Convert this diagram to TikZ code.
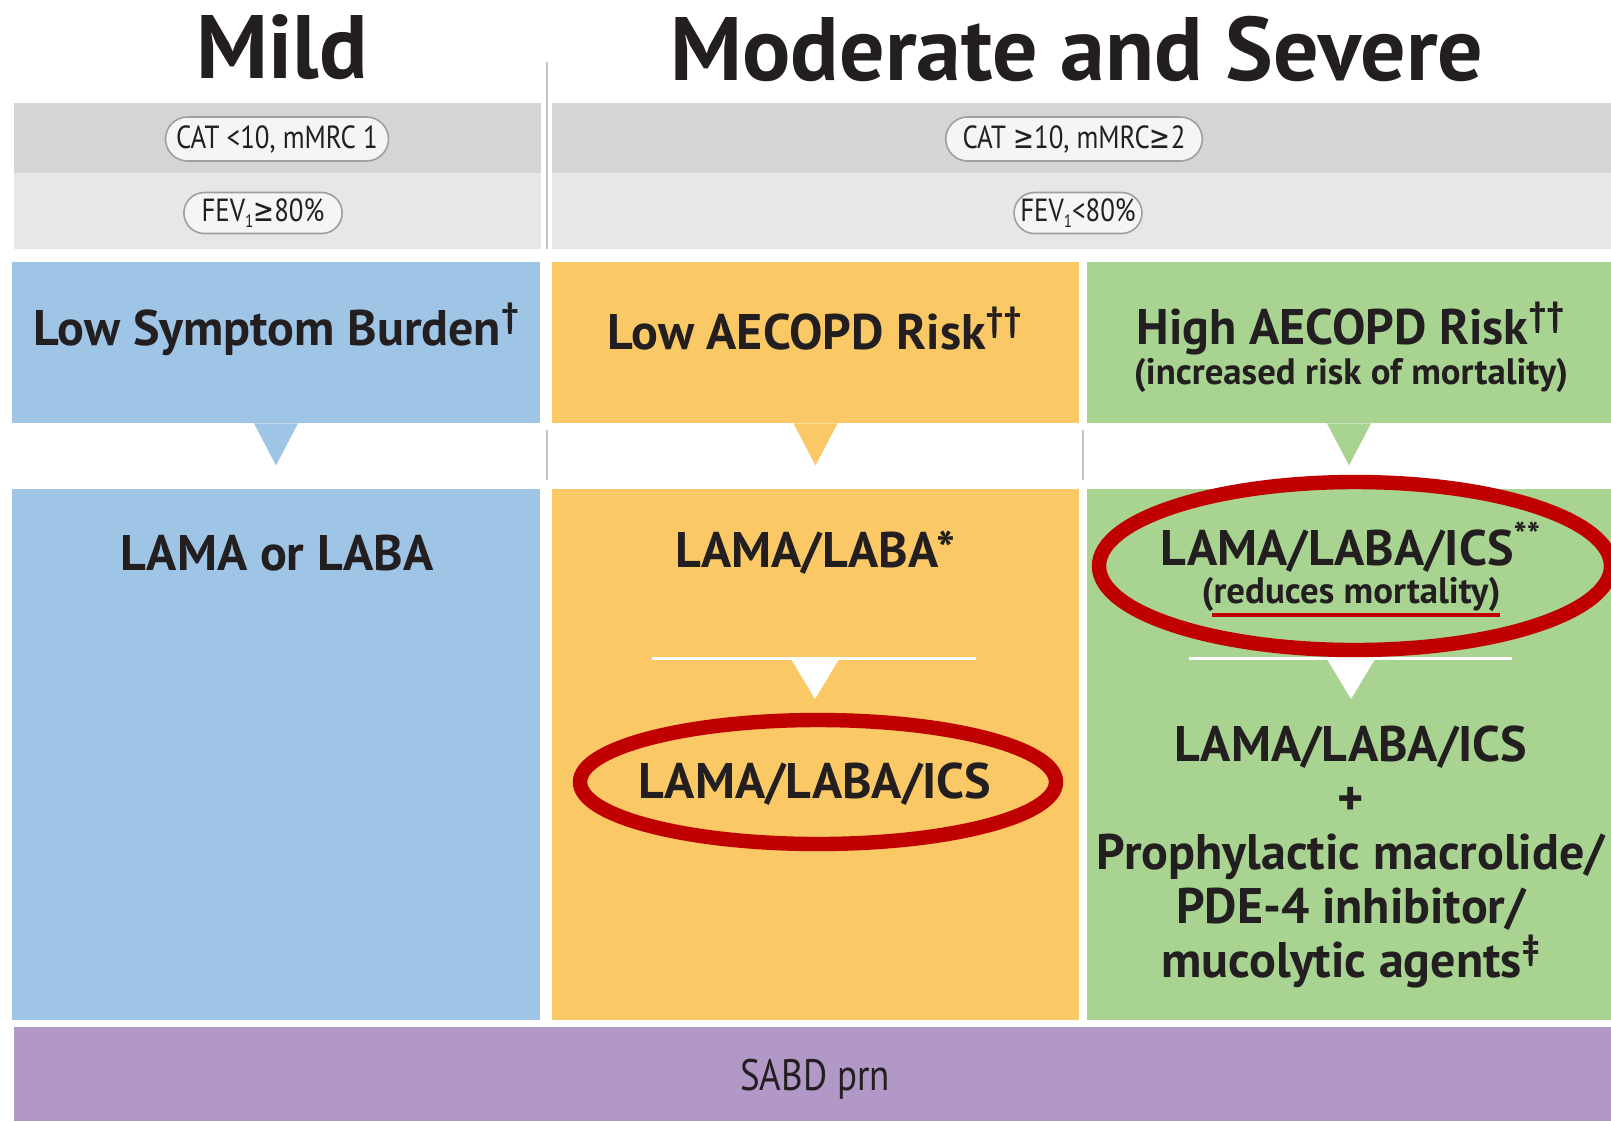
\documentclass[tikz,border=0pt]{standalone}
\usepackage{fontspec}
\setmainfont{PT Sans}
\newfontfamily\condfont[FakeStretch=0.84]{PT Sans}
\newfontfamily\symfont[FakeStretch=0.78]{DejaVu Sans}
\usetikzlibrary{shapes.misc}
\definecolor{cblue}{HTML}{9EC4E6}
\definecolor{corange}{HTML}{FAC864}
\definecolor{cgreen}{HTML}{A8D391}
\definecolor{cpurple}{HTML}{B298C6}
\definecolor{gdark}{HTML}{D5D5D7}
\definecolor{glight}{HTML}{E7E7E8}
\definecolor{cred}{HTML}{C00000}
\definecolor{ink}{HTML}{231F20}
\newcommand{\geqsym}{{\symfont ≥}}
\newcommand{\lowsub}[1]{\raisebox{-0.35ex}{\fontsize{9}{10}\selectfont #1}}
\begin{document}
\begin{tikzpicture}[x=0.5pt,y=-0.5pt,
  box/.style={rectangle, inner sep=0pt, draw=none},
  title/.style={font=\fontsize{45}{49}\selectfont\bfseries, text=ink},
  head/.style={font=\fontsize{25}{29}\selectfont\bfseries, text=ink, align=center},
  sub/.style={font=\fontsize{18.4}{21}\selectfont\bfseries, text=ink, align=center},
  drug/.style={font=\fontsize{25}{27}\selectfont\bfseries, text=ink, align=center},
  pill/.style={rounded rectangle, draw=gray!75, line width=0.8pt, fill=white!60!glight,
     inner xsep=6pt, inner ysep=0pt, minimum height=22pt, text=ink,
     font=\condfont\fontsize{16}{18}\selectfont},
  ring/.style={draw=cred, line width=7.2pt},
  sep/.style={draw=gray!45, line width=0.7pt},
  wline/.style={draw=white, line width=1.5pt}]
\useasboundingbox (0,0) rectangle (1611,1121);
\fill[white] (0,0) rectangle (1611,1121);
% titles
\node[title] (mild) at (282,47) {Mild};
\node[title] (modsev) at (1077,49) {Moderate and Severe};
% grey bands
\node[box, fill=gdark, minimum width=263.5pt, minimum height=35pt] (gl1) at (277.5,138) {};
\node[box, fill=gdark, minimum width=529.5pt, minimum height=35pt] (gr1) at (1081.5,138) {};
\node[box, fill=glight, minimum width=263.5pt, minimum height=38pt] (gl2) at (277.5,211) {};
\node[box, fill=glight, minimum width=529.5pt, minimum height=38pt] (gr2) at (1081.5,211) {};
\draw[sep] (547,62) -- (547,249);
% pills
\node[pill, minimum width=123.5pt] (p1) at (277,139) {CAT <10, mMRC 1};
\node[pill, minimum width=76pt, minimum height=20.5pt] (p2) at (263,213) {FEV\lowsub{1}\geqsym80\%};
\node[pill, minimum width=126pt] (p3) at (1074,139) {CAT \geqsym10, mMRC\geqsym2};
\node[pill, minimum width=76pt, minimum height=20.5pt] (p4) at (1078,213) {FEV\lowsub{1}<80\%};
% header boxes
\node[box, fill=cblue, minimum width=264pt, minimum height=80.5pt] (hb) at (276,342.5) {};
\node[box, fill=corange, minimum width=263.5pt, minimum height=80.5pt] (ho) at (815.5,342.5) {};
\node[box, fill=cgreen, minimum width=262pt, minimum height=80.5pt] (hg) at (1349,342.5) {};
% content boxes
\node[box, fill=cblue, minimum width=264pt, minimum height=265.5pt] (cb) at (276,754.5) {};
\node[box, fill=corange, minimum width=263.5pt, minimum height=265.5pt] (co) at (815.5,754.5) {};
\node[box, fill=cgreen, minimum width=262pt, minimum height=265.5pt] (cg) at (1349,754.5) {};
% purple bar
\node[box, fill=cpurple, minimum width=798.5pt, minimum height=47pt] (pb) at (812.5,1074) {};
% separators in gap
\draw[sep] (547,430) -- (547,480);
\draw[sep] (1083,430) -- (1083,480);
% down triangles
\fill[cblue] ([xshift=-11pt]hb.south) -- ([xshift=11pt]hb.south) -- ([yshift=-21pt]hb.south) -- cycle;
\fill[corange] ([xshift=-11pt]ho.south) -- ([xshift=11pt]ho.south) -- ([yshift=-21pt]ho.south) -- cycle;
\fill[cgreen] ([xshift=-11pt]hg.south) -- ([xshift=11pt]hg.south) -- ([yshift=-21pt]hg.south) -- cycle;
% header texts
\node[head] (t1) at (277,329) {Low Symptom Burden\textsuperscript{†}};
\node[head] (t2) at (815,329) {Low AECOPD Risk\textsuperscript{††}};
\node[head] (t3) at (1351,329) {High AECOPD Risk\textsuperscript{††}};
\node[sub] (t3b) at (1351,375) {(increased risk of mortality)};
% content texts
\node[drug] (d1) at (277,553) {LAMA or LABA};
\node[drug] (d2) at (815,553) {LAMA/LABA*};
\coordinate (ol1) at (652,658); \coordinate (ol2) at (976,658);
\draw[wline] (ol1) -- (ol2);
\coordinate (ot) at (815,659);
\fill[white] ([xshift=-12pt]ot) -- ([xshift=12pt]ot) -- ([yshift=-20pt]ot) -- cycle;
\node[drug] (d3) at (815,784) {LAMA/LABA/ICS};
\node[drug, inner ysep=1pt] (d4) at (1351,547) {LAMA/LABA/ICS\textsuperscript{**}};
\node[sub, inner ysep=1pt] (d4b) at (1351,594) {(reduces mortality)};
\coordinate (gl1c) at (1189,658); \coordinate (gl2c) at (1512,658);
\draw[wline] (gl1c) -- (gl2c);
\coordinate (gt) at (1351,659);
\fill[white] ([xshift=-12pt]gt) -- ([xshift=12pt]gt) -- ([yshift=-20pt]gt) -- cycle;
\node[drug] (d5) at (1351,857) {LAMA/LABA/ICS\\+\\Prophylactic macrolide/\\PDE-4 inhibitor/\\mucolytic agents\textsuperscript{‡}};
% purple text
\node[font=\condfont\fontsize{22}{24}\selectfont, text=ink] (sabd) at (815,1079) {SABD prn};
% red annotations
\coordinate (u1) at (1212,615); \coordinate (u2) at (1500,615);
\draw[draw=cred, line width=2pt] (u1) -- (u2);
\draw[ring] (818,782) ellipse [x radius=238, y radius=62];
\draw[ring] (1355,566) ellipse [x radius=256, y radius=84];
\end{tikzpicture}
\end{document}
